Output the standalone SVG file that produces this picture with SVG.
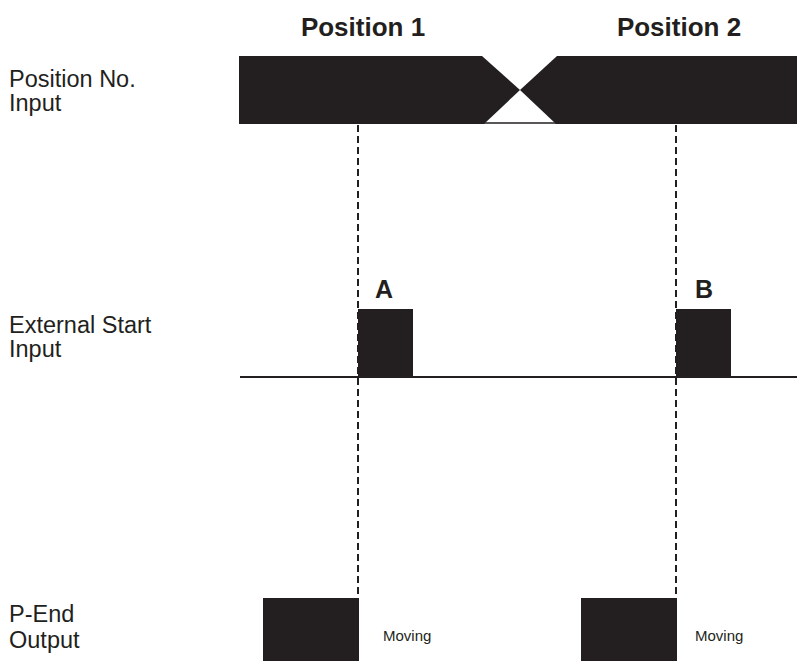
<svg xmlns="http://www.w3.org/2000/svg" width="797" height="661" viewBox="0 0 797 661">
  <style>
    .sig { fill: #231f20; }
    .lbl { font-family: "Liberation Sans", Arial, sans-serif; font-size: 23.5px; fill: #231f20; }
    .hdr { font-family: "Liberation Sans", Arial, sans-serif; font-size: 26px; font-weight: bold; fill: #231f20; text-anchor: middle; }
    .tag { font-family: "Liberation Sans", Arial, sans-serif; font-size: 25px; font-weight: bold; fill: #231f20; text-anchor: middle; }
    .note { font-family: "Liberation Sans", Arial, sans-serif; font-size: 15px; fill: #231f20; }
    .dash { stroke: #231f20; stroke-width: 2; stroke-dasharray: 7 4; fill: none; }
    .base { stroke: #231f20; stroke-width: 2; fill: none; }
  </style>
  <rect width="797" height="661" fill="#ffffff"/>

  <!-- column headers -->
  <g id="header-position-1"><text class="hdr" x="363" y="36">Position 1</text></g>
  <g id="header-position-2"><text class="hdr" x="679" y="36">Position 2</text></g>

  <!-- Position No. input: two position words crossing over -->
  <g id="position-no-input">
    <text class="lbl" x="9" y="87">Position No.</text>
    <text class="lbl" x="9" y="111">Input</text>
    <polygon class="sig" points="239,56 482,56 520,90 484,124 239,124"/>
    <polygon class="sig" points="557,56 797,56 797,124 556,124 520,90"/>
    <line x1="484" y1="123" x2="556" y2="123" stroke="#231f20" stroke-width="1.5"/>
  </g>

  <!-- External start input pulses -->
  <g id="external-start-input">
    <text class="lbl" x="9" y="333">External Start</text>
    <text class="lbl" x="9" y="357">Input</text>
    <line class="base" x1="240" y1="377" x2="797" y2="377"/>
    <rect class="sig" x="358" y="309" width="55" height="68"/>
    <rect class="sig" x="676" y="309" width="55" height="68"/>
    <text class="tag" x="384" y="298">A</text>
    <text class="tag" x="704" y="298">B</text>
  </g>

  <!-- P-End output -->
  <g id="p-end-output">
    <text class="lbl" x="9" y="622">P-End</text>
    <text class="lbl" x="9" y="648">Output</text>
    <rect class="sig" x="263" y="598" width="96" height="63"/>
    <rect class="sig" x="581" y="598" width="96" height="63"/>
    <text class="note" x="383" y="641">Moving</text>
    <text class="note" x="695" y="641">Moving</text>
  </g>

  <!-- timing reference lines -->
  <g id="connectors">
    <line class="dash" x1="358" y1="125" x2="358" y2="598"/>
    <line class="dash" x1="676" y1="125" x2="676" y2="598"/>
  </g>
</svg>
